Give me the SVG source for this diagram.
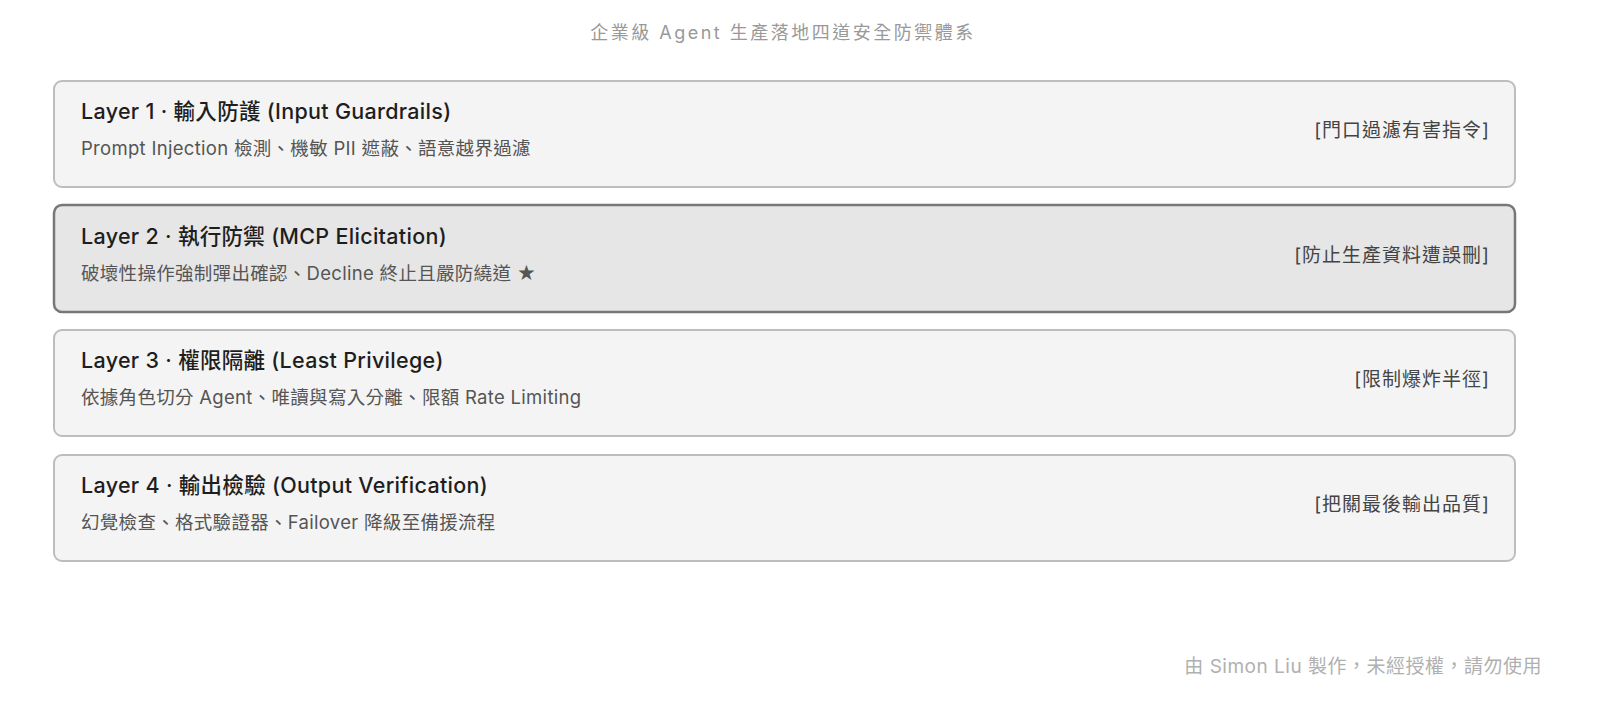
<svg xmlns="http://www.w3.org/2000/svg" width="1600" height="705" viewBox="0 0 1600 705">
<style>
text{font-family:Inter,"Noto Sans CJK TC",sans-serif}
.box{fill:#f4f4f4;stroke:#bdbdbd;stroke-width:2}
.hl{fill:#e6e6e6;stroke:#777;stroke-width:2.5}
.t{font-size:21.5px;font-weight:500;fill:#1e1e1e;letter-spacing:0.3px}
.s{font-size:18.5px;fill:#555;letter-spacing:0.3px}
.r{font-size:19px;fill:#444;text-anchor:end;letter-spacing:1px}
</style>
<rect width="1600" height="705" fill="#fff"/>
<text x="783" y="39" text-anchor="middle" style="font-size:18px;fill:#999;letter-spacing:2.5px">企業級 Agent 生產落地四道安全防禦體系</text>
<g id="layer1">
<rect class="box" x="54" y="81" width="1461" height="106" rx="8"/>
<text class="t" x="81" y="119">Layer 1 · 輸入防護 (Input Guardrails)</text>
<text class="s" x="81" y="155">Prompt Injection 檢測、機敏 PII 遮蔽、語意越界過濾</text>
<text class="r" x="1490" y="137">[門口過濾有害指令]</text>
</g>
<g id="layer2">
<rect class="hl" x="54" y="205" width="1461" height="107" rx="8"/>
<text class="t" x="81" y="244">Layer 2 · 執行防禦 (MCP Elicitation)</text>
<text class="s" x="81" y="280">破壞性操作強制彈出確認、Decline 終止且嚴防繞道 ★</text>
<text class="r" x="1490" y="262">[防止生產資料遭誤刪]</text>
</g>
<g id="layer3">
<rect class="box" x="54" y="330" width="1461" height="106" rx="8"/>
<text class="t" x="81" y="368">Layer 3 · 權限隔離 (Least Privilege)</text>
<text class="s" x="81" y="404">依據角色切分 Agent、唯讀與寫入分離、限額 Rate Limiting</text>
<text class="r" x="1490" y="386">[限制爆炸半徑]</text>
</g>
<g id="layer4">
<rect class="box" x="54" y="455" width="1461" height="106" rx="8"/>
<text class="t" x="81" y="493">Layer 4 · 輸出檢驗 (Output Verification)</text>
<text class="s" x="81" y="529">幻覺檢查、格式驗證器、Failover 降級至備援流程</text>
<text class="r" x="1490" y="511">[把關最後輸出品質]</text>
</g>
<g id="connectors"/>
<text x="1542" y="673" text-anchor="end" style="font-size:19px;fill:#b0b0b0;letter-spacing:0.5px">由 Simon Liu 製作，未經授權，請勿使用</text>
</svg>
